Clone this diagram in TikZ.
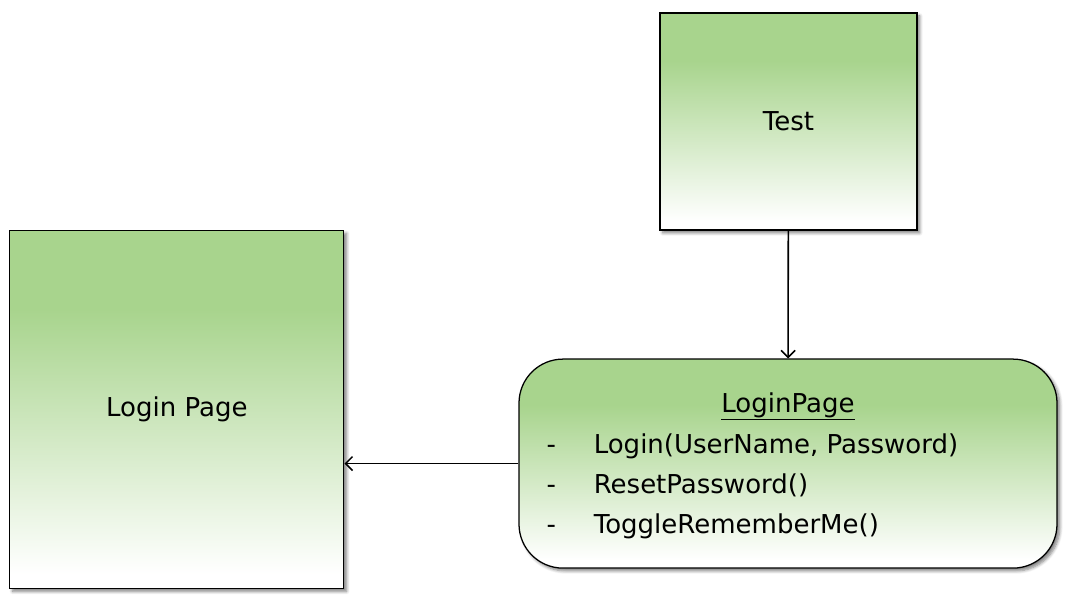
\documentclass[tikz,border=0pt]{standalone}
\usepackage{fontspec}
\setmainfont{DejaVu Sans}
\usepackage{tikz}
\usetikzlibrary{shadows, shadows.blur, arrows, arrows.meta, positioning, shadings}
\usepackage{xcolor}
\definecolor{boxgreen}{HTML}{A8D48D}
\pgfdeclareverticalshading{greenfade}{100bp}{color(0bp)=(white); color(27bp)=(white); color(64bp)=(boxgreen); color(100bp)=(boxgreen)}
\tikzstyle{arrow}     = [line width=1.1pt,->,>={Straight Barb[length=5pt,width=10pt]}]
\tikzstyle{block}     = [draw, line width=0.9pt, shading=greenfade, blur shadow={shadow xshift=2pt, shadow yshift=-2pt, shadow blur steps=6, shadow opacity=50}, inner sep=0pt, align=center]

\begin{document}
\begin{tikzpicture}[
        every node/.style={font=\fontsize{18.5}{22}\selectfont}
    ]
        \useasboundingbox (0,0) rectangle (26.675,-15.05);

        \node[block, minimum width=6.425cm, minimum height=5.425cm] (test) at (19.71,-3.04) {Test};
        \node[block, minimum width=8.35cm, minimum height=8.95cm] (page) at (4.42,-10.24) {Login Page};
        \node[block, rounded corners=1.1cm, minimum width=13.45cm, minimum height=5.225cm] (model) at (19.7,-11.59) {};

        \node[anchor=base] (title) at (19.7,-10.3) {\underline{LoginPage}};
        \foreach \op [count=\i] in {{Login(UserName, Password)}, {ResetPassword()}, {ToggleRememberMe()}} {
            \node[anchor=base] (dash\i) at (13.78,-10.325-\i) {-};
            \node[anchor=base west] (op\i) at (14.72,-10.325-\i) {\op};
        }

        \draw[arrow] (test) -- (model);
        \draw[arrow] (model.west |- page.east) ++(0,-1.35) coordinate (from) -- (from -| page.east);

    \end{tikzpicture}
\end{document}
